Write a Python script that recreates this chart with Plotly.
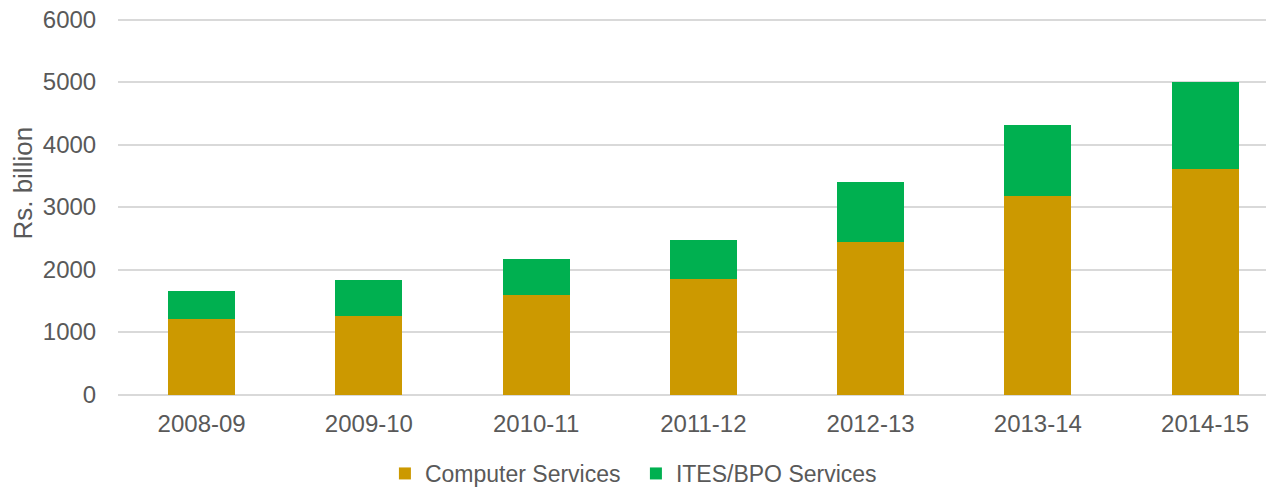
import plotly.graph_objects as go

years = ["2008-09", "2009-10", "2010-11", "2011-12", "2012-13", "2013-14", "2014-15"]
computer_services = [1216, 1259, 1595, 1856, 2443, 3179, 3611]
ites_bpo_services = [448, 576, 570, 624, 960, 1136, 1397]
y_ticks = [0, 1000, 2000, 3000, 4000, 5000, 6000]

FONT = "Liberation Sans, Arial, sans-serif"
TXT = "#595959"

fig = go.Figure()
fig.add_trace(go.Bar(name="Computer Services", x=years, y=computer_services,
                     marker=dict(color="#CC9900", line=dict(width=0))))
fig.add_trace(go.Bar(name="ITES/BPO Services", x=years, y=ites_bpo_services,
                     marker=dict(color="#00B050", line=dict(width=0))))

fig.update_layout(
    barmode="stack",
    bargap=0.6,
    width=1266, height=479,
    margin=dict(l=110, r=2, t=10, b=91, autoexpand=False),
    plot_bgcolor="white", paper_bgcolor="white",
    font=dict(family=FONT, size=24, color=TXT),
    showlegend=True,
    legend=dict(orientation="h", x=0.4488, xanchor="center", y=-0.205, yanchor="middle",
                font=dict(size=23, color=TXT), traceorder="normal", entrywidth=206),
    xaxis=dict(type="category", range=[-0.5, 6.4], showgrid=False, showline=False,
               ticks="outside", ticklen=6, tickcolor="rgba(0,0,0,0)", automargin=False,
               tickfont=dict(size=24, color=TXT)),
    yaxis=dict(range=[-24, 6024], tickvals=y_ticks, showgrid=True, gridcolor="#D9D9D9",
               gridwidth=1.5, zeroline=False, showline=False, ticks="outside",
               ticklen=16, tickcolor="rgba(0,0,0,0)", automargin=False,
               ticklabeloverflow="allow",
               tickfont=dict(size=24, color=TXT)),
    annotations=[dict(text="Rs. billion", textangle=-90, xref="paper", yref="paper",
                      x=-0.0823, y=0.562, xanchor="center", yanchor="middle",
                      showarrow=False, font=dict(size=26, color=TXT))],
)

fig.write_html("out.html")
